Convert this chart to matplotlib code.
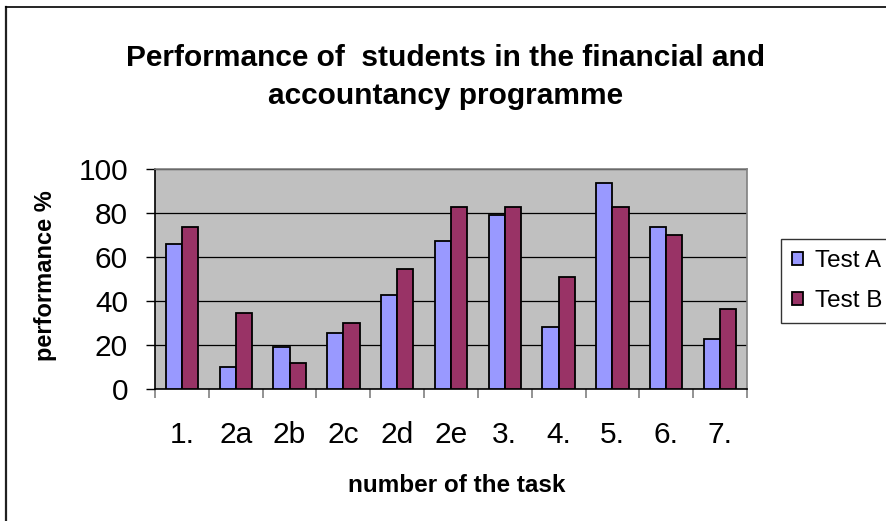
import matplotlib
matplotlib.use("Agg")
import matplotlib.pyplot as plt
import numpy as np
from matplotlib.lines import Line2D

categories = ["1.", "2a", "2b", "2c", "2d", "2e", "3.", "4.", "5.", "6.", "7."]
test_a = [66, 10, 19, 25.5, 42.7, 67.3, 79, 28.2, 93.6, 73.5, 22.7]
test_b = [73.5, 34.4, 11.7, 30, 54.5, 82.6, 82.6, 50.9, 82.6, 69.9, 36.4]
yticks = [0, 20, 40, 60, 80, 100]

plt.rcParams['font.family'] = ['Liberation Sans', 'DejaVu Sans']

W, H = 887, 521
fig = plt.figure(figsize=(W / 100, H / 100), dpi=100)
fig.patch.set_facecolor('white')

def fx(px):
    return px / W

def fy(py):
    return 1 - py / H

# outer chart frame (only left and top edges visible in the crop)
fig.add_artist(Line2D([fx(6.5), fx(6.5)], [fy(7), 0], transform=fig.transFigure,
                      color='#202020', linewidth=1.6))
fig.add_artist(Line2D([fx(6), 1], [fy(7), fy(7)], transform=fig.transFigure,
                      color='black', linewidth=1.2))

left, right, top, bottom = 155, 747, 169, 389
ax = fig.add_axes([fx(left), fy(bottom), (right - left) / W, (bottom - top) / H])
ax.set_facecolor('#C0C0C0')

x = np.arange(len(categories))
bw = 0.3
ax.bar(x - bw / 2, test_a, bw, color='#9999FF', edgecolor='black', linewidth=1.3,
       label='Test A', zorder=3)
ax.bar(x + bw / 2, test_b, bw, color='#993366', edgecolor='black', linewidth=1.3,
       label='Test B', zorder=3)

ax.set_xlim(-0.5, len(categories) - 0.5)
ax.set_ylim(0, 100)
ax.set_yticks(yticks)
ax.set_yticklabels([str(v) for v in yticks], fontsize=21.5)
ax.yaxis.grid(True, color='black', linewidth=0.9, zorder=1)
ax.set_axisbelow(True)

ax.set_xticks(x)
ax.set_xticklabels(categories, fontsize=21.5)
ax.tick_params(axis='x', length=0, pad=23)
ax.set_xticks(np.arange(-0.5, len(categories), 1), minor=True)
ax.tick_params(axis='x', which='minor', length=6.5, width=1.2, color='#808080', direction='out')
ax.tick_params(axis='y', length=6.5, width=1, color='black', direction='out', pad=13)

for s in ['top', 'right']:
    ax.spines[s].set_color('#808080')
    ax.spines[s].set_linewidth(1.2)
for s in ['left', 'bottom']:
    ax.spines[s].set_color('black')
    ax.spines[s].set_linewidth(1.2)

fig.text(fx(446), fy(77),
         "Performance of  students in the financial and\naccountancy programme",
         ha='center', va='center', fontsize=21.5, fontweight='bold', linespacing=1.5)
fig.text(fx(46), fy(276), "performance %", rotation=90, ha='center', va='center',
         fontsize=17, fontweight='bold')
fig.text(fx(457), fy(485), "number of the task", ha='center', va='center',
         fontsize=17.5, fontweight='bold')

leg = fig.legend(*ax.get_legend_handles_labels(), loc='upper left',
                 bbox_to_anchor=(fx(781), fy(239)), bbox_transform=fig.transFigure,
                 fontsize=17.5, frameon=True, fancybox=False,
                 borderaxespad=0, handlelength=0.45, handleheight=0.45, handletextpad=0.5,
                 labelspacing=0.75, borderpad=0.45)
leg.get_frame().set_edgecolor('black')
leg.get_frame().set_linewidth(1.0)

fig.savefig('out.png', dpi=100)
